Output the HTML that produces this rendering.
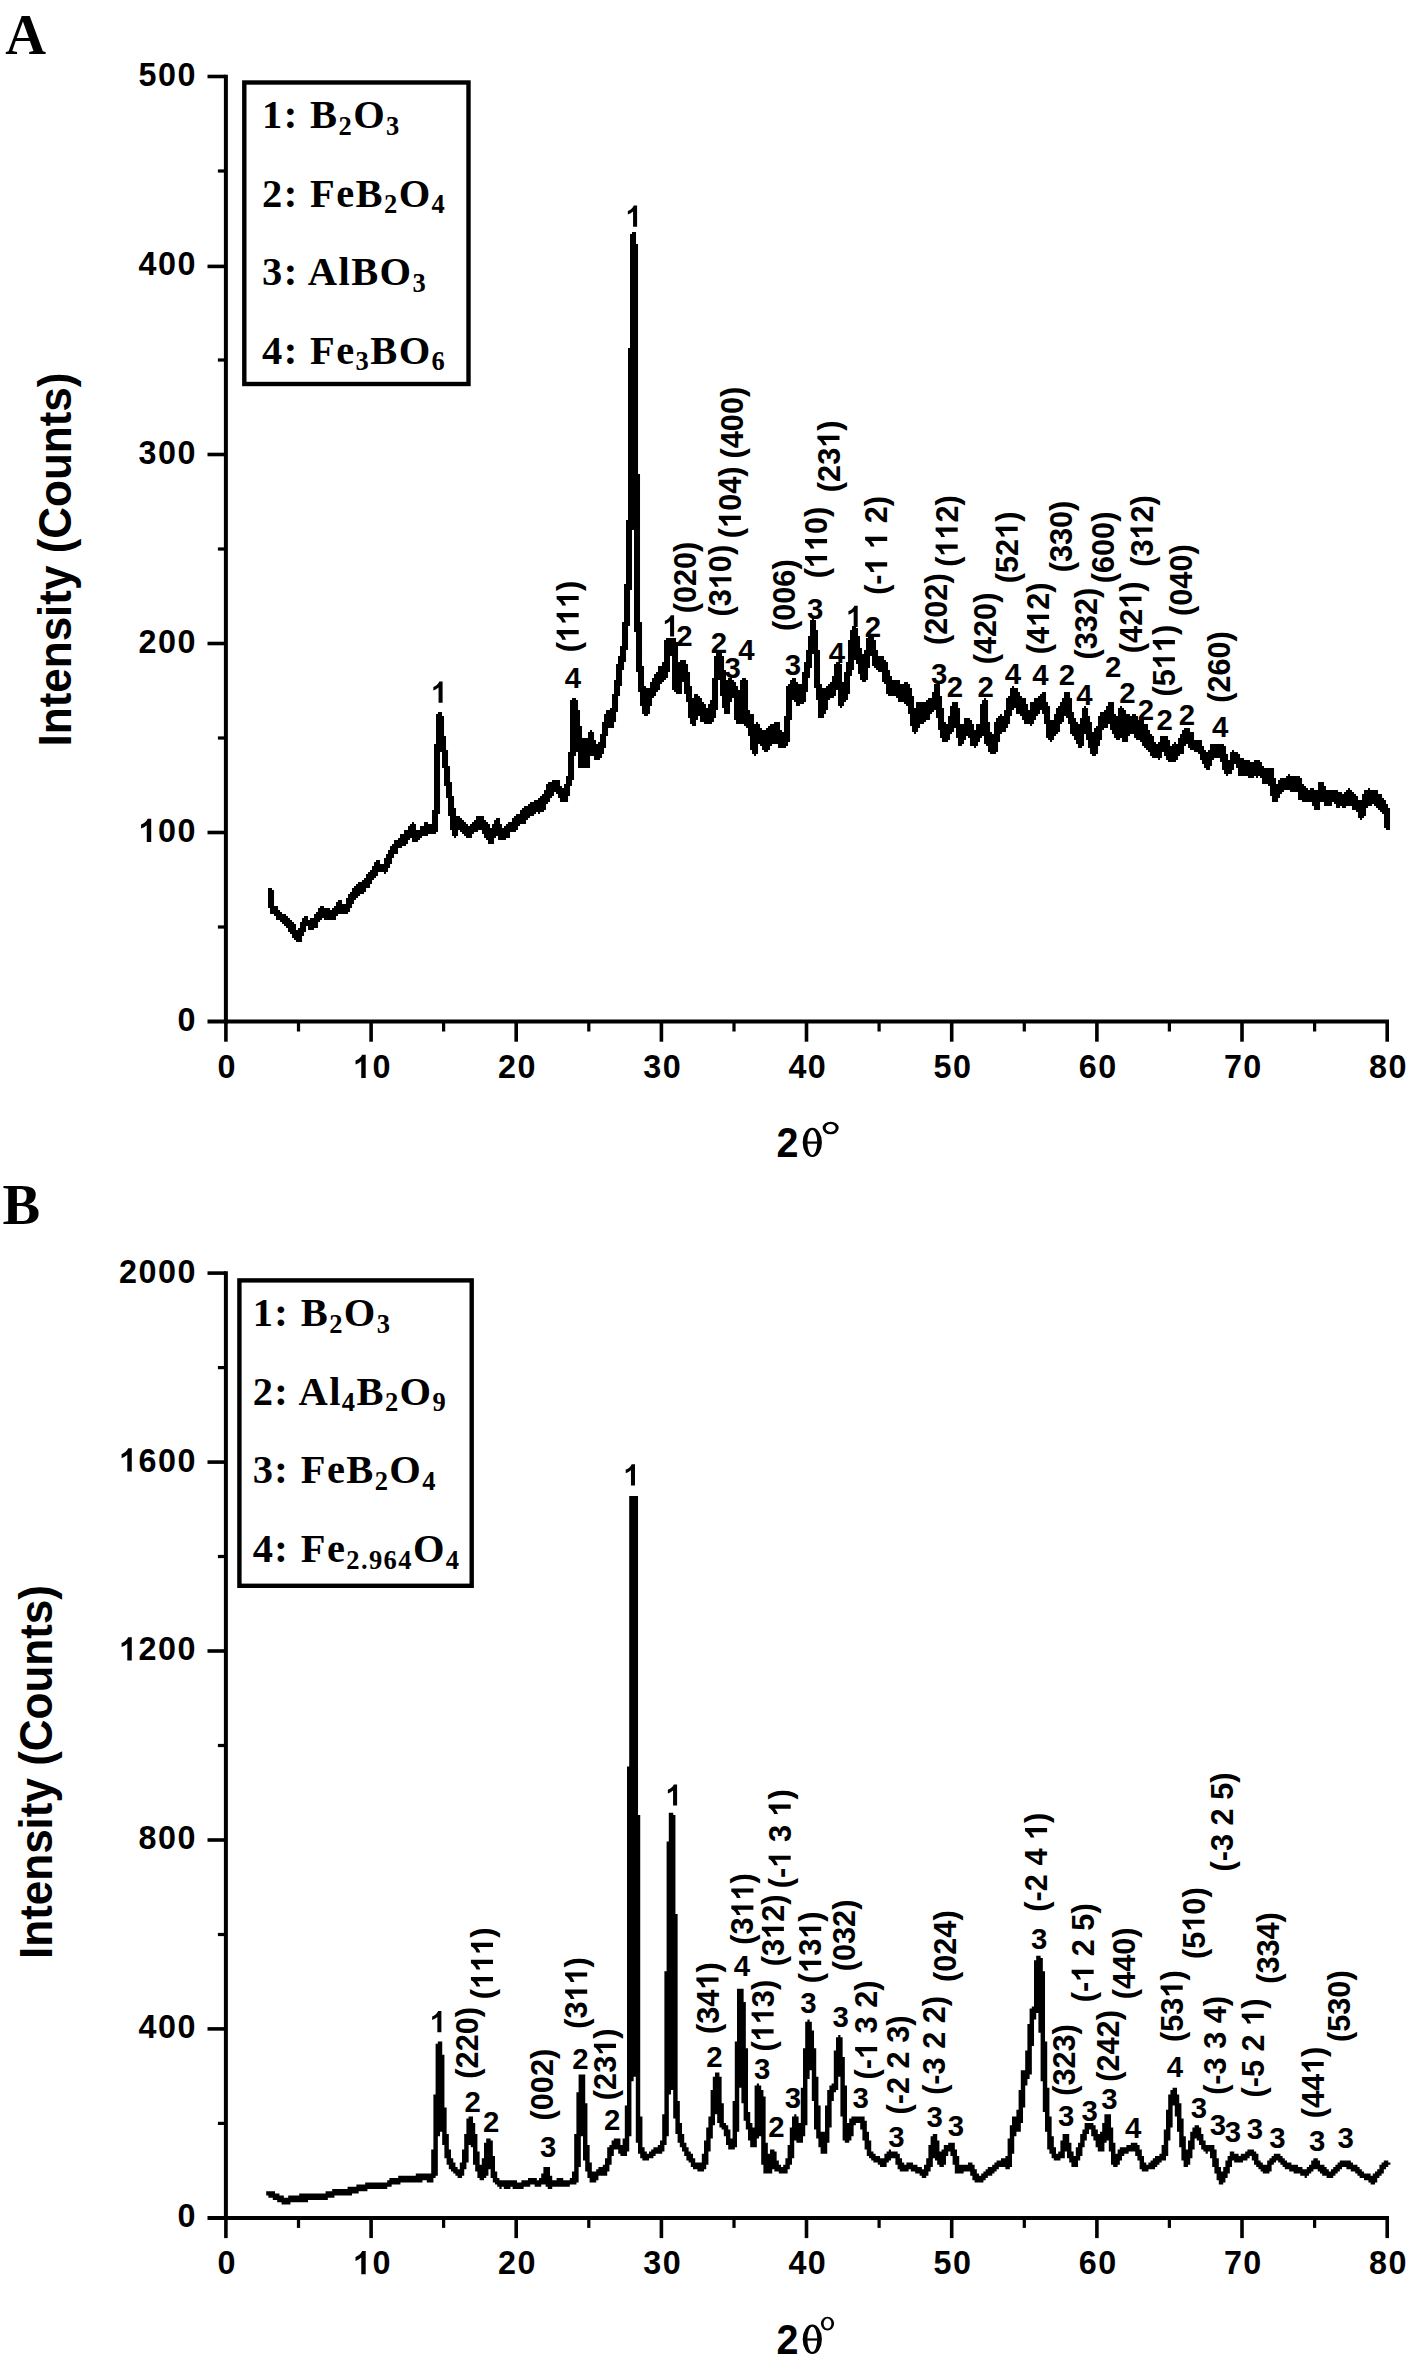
<!DOCTYPE html>
<html><head><meta charset="utf-8"><title>XRD patterns</title>
<style>html,body{margin:0;padding:0;background:#fff}body{width:1415px;height:2363px;overflow:hidden}svg{display:block}svg text{fill:#000}</style>
</head><body>
<svg width="1415" height="2363" viewBox="0 0 1415 2363">
<defs><path id="g1" d="M806 0H525V1059Q371 915 162 846V1101Q272 1137 401 1237.500Q530 1338 578 1472H806Z"/></defs>
<rect width="1415" height="2363" fill="#fff"/>
<text x="5.2" y="54" style="font-family:'Liberation Serif',serif;font-weight:700;font-size:56.5px">A</text>
<text x="2.6" y="1223.6" style="font-family:'Liberation Serif',serif;font-weight:700;font-size:56.5px">B</text>
<g stroke="#000">
<line x1="225.9" y1="74.7" x2="225.9" y2="1023.5" stroke-width="4.0"/>
<line x1="207.5" y1="1021.5" x2="1389.0" y2="1021.5" stroke-width="4.0"/>
<line x1="217.9" y1="927.0" x2="225.9" y2="927.0" stroke-width="3.24"/>
<line x1="207.5" y1="832.5" x2="225.9" y2="832.5" stroke-width="3.6"/>
<line x1="217.9" y1="738.0" x2="225.9" y2="738.0" stroke-width="3.24"/>
<line x1="207.5" y1="643.5" x2="225.9" y2="643.5" stroke-width="3.6"/>
<line x1="217.9" y1="549.0" x2="225.9" y2="549.0" stroke-width="3.24"/>
<line x1="207.5" y1="454.5" x2="225.9" y2="454.5" stroke-width="3.6"/>
<line x1="217.9" y1="360.0" x2="225.9" y2="360.0" stroke-width="3.24"/>
<line x1="207.5" y1="266.4" x2="225.9" y2="266.4" stroke-width="3.6"/>
<line x1="217.9" y1="171.0" x2="225.9" y2="171.0" stroke-width="3.24"/>
<line x1="207.5" y1="76.5" x2="225.9" y2="76.5" stroke-width="3.6"/>
<line x1="225.9" y1="1021.5" x2="225.9" y2="1041.7" stroke-width="3.6"/>
<line x1="298.5" y1="1021.5" x2="298.5" y2="1031.5" stroke-width="3.24"/>
<line x1="371.1" y1="1021.5" x2="371.1" y2="1041.7" stroke-width="3.6"/>
<line x1="443.6" y1="1021.5" x2="443.6" y2="1031.5" stroke-width="3.24"/>
<line x1="516.2" y1="1021.5" x2="516.2" y2="1041.7" stroke-width="3.6"/>
<line x1="588.8" y1="1021.5" x2="588.8" y2="1031.5" stroke-width="3.24"/>
<line x1="661.4" y1="1021.5" x2="661.4" y2="1041.7" stroke-width="3.6"/>
<line x1="734.0" y1="1021.5" x2="734.0" y2="1031.5" stroke-width="3.24"/>
<line x1="806.5" y1="1021.5" x2="806.5" y2="1041.7" stroke-width="3.6"/>
<line x1="879.1" y1="1021.5" x2="879.1" y2="1031.5" stroke-width="3.24"/>
<line x1="951.7" y1="1021.5" x2="951.7" y2="1041.7" stroke-width="3.6"/>
<line x1="1024.3" y1="1021.5" x2="1024.3" y2="1031.5" stroke-width="3.24"/>
<line x1="1096.9" y1="1021.5" x2="1096.9" y2="1041.7" stroke-width="3.6"/>
<line x1="1169.4" y1="1021.5" x2="1169.4" y2="1031.5" stroke-width="3.24"/>
<line x1="1242.0" y1="1021.5" x2="1242.0" y2="1041.7" stroke-width="3.6"/>
<line x1="1314.6" y1="1021.5" x2="1314.6" y2="1031.5" stroke-width="3.24"/>
<line x1="1387.2" y1="1021.5" x2="1387.2" y2="1041.7" stroke-width="3.6"/>
</g>
<g style="font-family:'Liberation Sans',sans-serif;font-weight:700;font-size:32.3px">
<g transform="translate(195.4,1030.9)"><text x="-17.97" y="0" letter-spacing="1.5">0</text></g>
<g transform="translate(195.4,841.9)"><use href="#g1" transform="translate(-56.90,0) scale(0.01577,-0.01577)"/><text x="-37.43" y="0" letter-spacing="1.5">00</text></g>
<g transform="translate(195.4,652.9)"><text x="-56.90" y="0" letter-spacing="1.5">200</text></g>
<g transform="translate(195.4,463.9)"><text x="-56.90" y="0" letter-spacing="1.5">300</text></g>
<g transform="translate(195.4,274.9)"><text x="-56.90" y="0" letter-spacing="1.5">400</text></g>
<g transform="translate(195.4,85.9)"><text x="-56.90" y="0" letter-spacing="1.5">500</text></g>
<g transform="translate(226.5,1077.9)"><text x="-8.98" y="0" letter-spacing="1.5">0</text></g>
<g transform="translate(371.7,1077.9)"><use href="#g1" transform="translate(-18.72,0) scale(0.01577,-0.01577)"/><text x="0.75" y="0" letter-spacing="1.5">0</text></g>
<g transform="translate(516.8,1077.9)"><text x="-18.72" y="0" letter-spacing="1.5">20</text></g>
<g transform="translate(662.0,1077.9)"><text x="-18.72" y="0" letter-spacing="1.5">30</text></g>
<g transform="translate(807.1,1077.9)"><text x="-18.72" y="0" letter-spacing="1.5">40</text></g>
<g transform="translate(952.3,1077.9)"><text x="-18.72" y="0" letter-spacing="1.5">50</text></g>
<g transform="translate(1097.5,1077.9)"><text x="-18.72" y="0" letter-spacing="1.5">60</text></g>
<g transform="translate(1242.6,1077.9)"><text x="-18.72" y="0" letter-spacing="1.5">70</text></g>
<g transform="translate(1387.8,1077.9)"><text x="-18.72" y="0" letter-spacing="1.5">80</text></g>
</g>
<path fill="#000" d="M268.0 888.0h2.03v20.0h-2.03zM270.0 888.0h2.03v26.0h-2.03zM272.0 890.0h2.03v24.0h-2.03zM274.0 906.0h2.03v10.0h-2.03zM276.0 906.0h2.03v14.0h-2.03zM278.0 910.0h2.03v10.0h-2.03zM280.0 912.0h2.03v10.0h-2.03zM282.0 914.0h2.03v10.0h-2.03zM284.0 914.0h2.03v12.0h-2.03zM286.0 916.0h2.03v12.0h-2.03zM288.0 918.0h2.03v14.0h-2.03zM290.0 920.0h2.03v14.0h-2.03zM292.0 922.0h2.03v16.0h-2.03zM294.0 924.0h2.03v16.0h-2.03zM296.0 930.0h2.03v12.0h-2.03zM298.0 928.0h2.03v14.0h-2.03zM300.0 922.0h2.03v20.0h-2.03zM302.0 918.0h2.03v18.0h-2.03zM304.0 916.0h2.03v16.0h-2.03zM306.0 916.0h2.03v10.0h-2.03zM308.0 920.0h2.03v10.0h-2.03zM310.0 918.0h2.03v12.0h-2.03zM312.0 918.0h2.03v12.0h-2.03zM314.0 914.0h2.03v14.0h-2.03zM316.0 912.0h2.03v16.0h-2.03zM318.0 908.0h2.03v14.0h-2.03zM320.0 906.0h2.03v14.0h-2.03zM322.0 906.0h2.03v12.0h-2.03zM324.0 908.0h2.03v12.0h-2.03zM326.0 908.0h2.03v12.0h-2.03zM328.0 908.0h2.03v12.0h-2.03zM330.0 910.0h2.03v10.0h-2.03zM332.0 908.0h2.03v12.0h-2.03zM334.0 906.0h2.03v14.0h-2.03zM336.0 902.0h2.03v14.0h-2.03zM338.0 900.0h2.03v14.0h-2.03zM340.0 900.0h2.03v14.0h-2.03zM342.0 904.0h2.03v10.0h-2.03zM344.0 904.0h2.03v10.0h-2.03zM346.0 898.0h2.03v16.0h-2.03zM348.0 894.0h2.03v18.0h-2.03zM350.0 892.0h2.03v16.0h-2.03zM352.0 888.0h2.03v16.0h-2.03zM354.0 886.0h2.03v14.0h-2.03zM356.0 884.0h2.03v14.0h-2.03zM358.0 882.0h2.03v14.0h-2.03zM360.0 882.0h2.03v12.0h-2.03zM362.0 880.0h2.03v14.0h-2.03zM364.0 878.0h2.03v14.0h-2.03zM366.0 874.0h2.03v14.0h-2.03zM368.0 872.0h2.03v16.0h-2.03zM370.0 870.0h2.03v14.0h-2.03zM372.0 866.0h2.03v14.0h-2.03zM374.0 862.0h2.03v16.0h-2.03zM376.0 860.0h2.03v16.0h-2.03zM378.0 860.0h2.03v12.0h-2.03zM380.0 864.0h2.03v8.0h-2.03zM382.0 864.0h2.03v8.0h-2.03zM384.0 858.0h2.03v16.0h-2.03zM386.0 854.0h2.03v18.0h-2.03zM388.0 850.0h2.03v18.0h-2.03zM390.0 846.0h2.03v18.0h-2.03zM392.0 844.0h2.03v14.0h-2.03zM394.0 840.0h2.03v14.0h-2.03zM396.0 840.0h2.03v14.0h-2.03zM398.0 838.0h2.03v10.0h-2.03zM400.0 834.0h2.03v14.0h-2.03zM402.0 834.0h2.03v12.0h-2.03zM404.0 830.0h2.03v16.0h-2.03zM406.0 830.0h2.03v14.0h-2.03zM408.0 826.0h2.03v14.0h-2.03zM410.0 824.0h2.03v14.0h-2.03zM412.0 822.0h2.03v20.0h-2.03zM414.0 824.0h2.03v18.0h-2.03zM416.0 830.0h2.03v12.0h-2.03zM418.0 830.0h2.03v10.0h-2.03zM420.0 826.0h2.03v12.0h-2.03zM422.0 826.0h2.03v10.0h-2.03zM424.0 822.0h2.03v14.0h-2.03zM426.0 822.0h2.03v14.0h-2.03zM428.0 824.0h2.03v10.0h-2.03zM430.0 824.0h2.03v10.0h-2.03zM432.0 810.0h2.03v24.0h-2.03zM434.0 744.0h2.03v90.0h-2.03zM436.0 714.0h2.03v118.0h-2.03zM438.0 712.0h2.03v102.0h-2.03zM440.0 712.0h2.03v40.0h-2.03zM442.0 716.0h2.03v52.0h-2.03zM444.0 736.0h2.03v50.0h-2.03zM446.0 750.0h2.03v48.0h-2.03zM448.0 766.0h2.03v50.0h-2.03zM450.0 782.0h2.03v48.0h-2.03zM452.0 796.0h2.03v40.0h-2.03zM454.0 808.0h2.03v30.0h-2.03zM456.0 816.0h2.03v20.0h-2.03zM458.0 816.0h2.03v14.0h-2.03zM460.0 818.0h2.03v14.0h-2.03zM462.0 820.0h2.03v14.0h-2.03zM464.0 822.0h2.03v14.0h-2.03zM466.0 824.0h2.03v14.0h-2.03zM468.0 826.0h2.03v12.0h-2.03zM470.0 824.0h2.03v14.0h-2.03zM472.0 822.0h2.03v12.0h-2.03zM474.0 820.0h2.03v12.0h-2.03zM476.0 816.0h2.03v16.0h-2.03zM478.0 816.0h2.03v14.0h-2.03zM480.0 816.0h2.03v14.0h-2.03zM482.0 816.0h2.03v18.0h-2.03zM484.0 820.0h2.03v18.0h-2.03zM486.0 822.0h2.03v18.0h-2.03zM488.0 824.0h2.03v20.0h-2.03zM490.0 828.0h2.03v16.0h-2.03zM492.0 824.0h2.03v20.0h-2.03zM494.0 820.0h2.03v18.0h-2.03zM496.0 818.0h2.03v18.0h-2.03zM498.0 818.0h2.03v22.0h-2.03zM500.0 824.0h2.03v16.0h-2.03zM502.0 828.0h2.03v12.0h-2.03zM504.0 826.0h2.03v14.0h-2.03zM506.0 824.0h2.03v14.0h-2.03zM508.0 822.0h2.03v16.0h-2.03zM510.0 822.0h2.03v10.0h-2.03zM512.0 818.0h2.03v14.0h-2.03zM514.0 816.0h2.03v16.0h-2.03zM516.0 814.0h2.03v16.0h-2.03zM518.0 814.0h2.03v12.0h-2.03zM520.0 810.0h2.03v14.0h-2.03zM522.0 808.0h2.03v16.0h-2.03zM524.0 806.0h2.03v18.0h-2.03zM526.0 806.0h2.03v14.0h-2.03zM528.0 804.0h2.03v14.0h-2.03zM530.0 802.0h2.03v14.0h-2.03zM532.0 802.0h2.03v14.0h-2.03zM534.0 800.0h2.03v14.0h-2.03zM536.0 800.0h2.03v12.0h-2.03zM538.0 798.0h2.03v16.0h-2.03zM540.0 796.0h2.03v16.0h-2.03zM542.0 794.0h2.03v18.0h-2.03zM544.0 790.0h2.03v20.0h-2.03zM546.0 784.0h2.03v20.0h-2.03zM548.0 782.0h2.03v20.0h-2.03zM550.0 782.0h2.03v16.0h-2.03zM552.0 780.0h2.03v16.0h-2.03zM554.0 780.0h2.03v12.0h-2.03zM556.0 780.0h2.03v14.0h-2.03zM558.0 780.0h2.03v18.0h-2.03zM560.0 786.0h2.03v16.0h-2.03zM562.0 788.0h2.03v14.0h-2.03zM564.0 784.0h2.03v18.0h-2.03zM566.0 776.0h2.03v26.0h-2.03zM568.0 752.0h2.03v44.0h-2.03zM570.0 700.0h2.03v86.0h-2.03zM572.0 698.0h2.03v82.0h-2.03zM574.0 698.0h2.03v58.0h-2.03zM576.0 700.0h2.03v52.0h-2.03zM578.0 710.0h2.03v58.0h-2.03zM580.0 726.0h2.03v42.0h-2.03zM582.0 738.0h2.03v30.0h-2.03zM584.0 738.0h2.03v30.0h-2.03zM586.0 738.0h2.03v30.0h-2.03zM588.0 732.0h2.03v36.0h-2.03zM590.0 730.0h2.03v26.0h-2.03zM592.0 732.0h2.03v24.0h-2.03zM594.0 740.0h2.03v20.0h-2.03zM596.0 744.0h2.03v16.0h-2.03zM598.0 742.0h2.03v18.0h-2.03zM600.0 734.0h2.03v24.0h-2.03zM602.0 722.0h2.03v32.0h-2.03zM604.0 714.0h2.03v34.0h-2.03zM606.0 710.0h2.03v26.0h-2.03zM608.0 710.0h2.03v18.0h-2.03zM610.0 708.0h2.03v20.0h-2.03zM612.0 694.0h2.03v34.0h-2.03zM614.0 680.0h2.03v42.0h-2.03zM616.0 664.0h2.03v48.0h-2.03zM618.0 656.0h2.03v40.0h-2.03zM620.0 646.0h2.03v40.0h-2.03zM622.0 622.0h2.03v48.0h-2.03zM624.0 584.0h2.03v78.0h-2.03zM626.0 520.0h2.03v130.0h-2.03zM628.0 348.0h2.03v278.0h-2.03zM630.0 234.0h2.03v356.0h-2.03zM632.0 232.0h2.03v298.0h-2.03zM634.0 232.0h2.03v400.0h-2.03zM636.0 244.0h2.03v428.0h-2.03zM638.0 474.0h2.03v218.0h-2.03zM640.0 622.0h2.03v84.0h-2.03zM642.0 666.0h2.03v48.0h-2.03zM644.0 686.0h2.03v30.0h-2.03zM646.0 688.0h2.03v28.0h-2.03zM648.0 688.0h2.03v26.0h-2.03zM650.0 682.0h2.03v24.0h-2.03zM652.0 678.0h2.03v20.0h-2.03zM654.0 674.0h2.03v22.0h-2.03zM656.0 672.0h2.03v20.0h-2.03zM658.0 666.0h2.03v24.0h-2.03zM660.0 666.0h2.03v18.0h-2.03zM662.0 662.0h2.03v20.0h-2.03zM664.0 640.0h2.03v40.0h-2.03zM666.0 638.0h2.03v40.0h-2.03zM668.0 638.0h2.03v34.0h-2.03zM670.0 638.0h2.03v18.0h-2.03zM672.0 638.0h2.03v52.0h-2.03zM674.0 638.0h2.03v54.0h-2.03zM676.0 642.0h2.03v52.0h-2.03zM678.0 662.0h2.03v32.0h-2.03zM680.0 660.0h2.03v34.0h-2.03zM682.0 660.0h2.03v22.0h-2.03zM684.0 660.0h2.03v34.0h-2.03zM686.0 664.0h2.03v38.0h-2.03zM688.0 672.0h2.03v46.0h-2.03zM690.0 686.0h2.03v38.0h-2.03zM692.0 698.0h2.03v28.0h-2.03zM694.0 694.0h2.03v32.0h-2.03zM696.0 694.0h2.03v26.0h-2.03zM698.0 696.0h2.03v20.0h-2.03zM700.0 698.0h2.03v24.0h-2.03zM702.0 702.0h2.03v20.0h-2.03zM704.0 704.0h2.03v20.0h-2.03zM706.0 708.0h2.03v16.0h-2.03zM708.0 704.0h2.03v20.0h-2.03zM710.0 700.0h2.03v24.0h-2.03zM712.0 678.0h2.03v44.0h-2.03zM714.0 656.0h2.03v62.0h-2.03zM716.0 652.0h2.03v58.0h-2.03zM718.0 652.0h2.03v28.0h-2.03zM720.0 652.0h2.03v44.0h-2.03zM722.0 656.0h2.03v52.0h-2.03zM724.0 670.0h2.03v44.0h-2.03zM726.0 680.0h2.03v34.0h-2.03zM728.0 678.0h2.03v36.0h-2.03zM730.0 678.0h2.03v24.0h-2.03zM732.0 680.0h2.03v18.0h-2.03zM734.0 682.0h2.03v38.0h-2.03zM736.0 686.0h2.03v38.0h-2.03zM738.0 690.0h2.03v34.0h-2.03zM740.0 680.0h2.03v44.0h-2.03zM742.0 678.0h2.03v46.0h-2.03zM744.0 678.0h2.03v48.0h-2.03zM746.0 680.0h2.03v48.0h-2.03zM748.0 710.0h2.03v26.0h-2.03zM750.0 714.0h2.03v36.0h-2.03zM752.0 714.0h2.03v40.0h-2.03zM754.0 724.0h2.03v32.0h-2.03zM756.0 722.0h2.03v32.0h-2.03zM758.0 724.0h2.03v20.0h-2.03zM760.0 728.0h2.03v18.0h-2.03zM762.0 730.0h2.03v20.0h-2.03zM764.0 730.0h2.03v22.0h-2.03zM766.0 728.0h2.03v24.0h-2.03zM768.0 726.0h2.03v24.0h-2.03zM770.0 724.0h2.03v22.0h-2.03zM772.0 724.0h2.03v20.0h-2.03zM774.0 722.0h2.03v22.0h-2.03zM776.0 722.0h2.03v22.0h-2.03zM778.0 722.0h2.03v26.0h-2.03zM780.0 730.0h2.03v18.0h-2.03zM782.0 732.0h2.03v16.0h-2.03zM784.0 716.0h2.03v32.0h-2.03zM786.0 686.0h2.03v60.0h-2.03zM788.0 684.0h2.03v58.0h-2.03zM790.0 680.0h2.03v40.0h-2.03zM792.0 678.0h2.03v22.0h-2.03zM794.0 678.0h2.03v24.0h-2.03zM796.0 682.0h2.03v24.0h-2.03zM798.0 684.0h2.03v22.0h-2.03zM800.0 684.0h2.03v20.0h-2.03zM802.0 672.0h2.03v32.0h-2.03zM804.0 662.0h2.03v40.0h-2.03zM806.0 650.0h2.03v42.0h-2.03zM808.0 636.0h2.03v42.0h-2.03zM810.0 620.0h2.03v48.0h-2.03zM812.0 618.0h2.03v36.0h-2.03zM814.0 620.0h2.03v68.0h-2.03zM816.0 630.0h2.03v70.0h-2.03zM818.0 650.0h2.03v68.0h-2.03zM820.0 684.0h2.03v34.0h-2.03zM822.0 688.0h2.03v30.0h-2.03zM824.0 688.0h2.03v26.0h-2.03zM826.0 686.0h2.03v24.0h-2.03zM828.0 684.0h2.03v16.0h-2.03zM830.0 682.0h2.03v16.0h-2.03zM832.0 676.0h2.03v22.0h-2.03zM834.0 664.0h2.03v32.0h-2.03zM836.0 662.0h2.03v28.0h-2.03zM838.0 662.0h2.03v44.0h-2.03zM840.0 664.0h2.03v44.0h-2.03zM842.0 682.0h2.03v24.0h-2.03zM844.0 672.0h2.03v30.0h-2.03zM846.0 662.0h2.03v38.0h-2.03zM848.0 640.0h2.03v54.0h-2.03zM850.0 630.0h2.03v46.0h-2.03zM852.0 626.0h2.03v44.0h-2.03zM854.0 626.0h2.03v34.0h-2.03zM856.0 628.0h2.03v36.0h-2.03zM858.0 636.0h2.03v38.0h-2.03zM860.0 648.0h2.03v32.0h-2.03zM862.0 654.0h2.03v28.0h-2.03zM864.0 650.0h2.03v32.0h-2.03zM866.0 638.0h2.03v42.0h-2.03zM868.0 636.0h2.03v32.0h-2.03zM870.0 634.0h2.03v22.0h-2.03zM872.0 636.0h2.03v30.0h-2.03zM874.0 640.0h2.03v28.0h-2.03zM876.0 650.0h2.03v20.0h-2.03zM878.0 656.0h2.03v16.0h-2.03zM880.0 656.0h2.03v16.0h-2.03zM882.0 656.0h2.03v26.0h-2.03zM884.0 660.0h2.03v24.0h-2.03zM886.0 662.0h2.03v32.0h-2.03zM888.0 670.0h2.03v26.0h-2.03zM890.0 676.0h2.03v20.0h-2.03zM892.0 680.0h2.03v16.0h-2.03zM894.0 680.0h2.03v16.0h-2.03zM896.0 680.0h2.03v18.0h-2.03zM898.0 680.0h2.03v22.0h-2.03zM900.0 684.0h2.03v18.0h-2.03zM902.0 684.0h2.03v18.0h-2.03zM904.0 682.0h2.03v22.0h-2.03zM906.0 682.0h2.03v24.0h-2.03zM908.0 684.0h2.03v30.0h-2.03zM910.0 688.0h2.03v38.0h-2.03zM912.0 696.0h2.03v36.0h-2.03zM914.0 708.0h2.03v26.0h-2.03zM916.0 702.0h2.03v30.0h-2.03zM918.0 702.0h2.03v26.0h-2.03zM920.0 702.0h2.03v22.0h-2.03zM922.0 702.0h2.03v22.0h-2.03zM924.0 702.0h2.03v20.0h-2.03zM926.0 700.0h2.03v20.0h-2.03zM928.0 698.0h2.03v22.0h-2.03zM930.0 698.0h2.03v16.0h-2.03zM932.0 692.0h2.03v20.0h-2.03zM934.0 684.0h2.03v26.0h-2.03zM936.0 684.0h2.03v34.0h-2.03zM938.0 684.0h2.03v46.0h-2.03zM940.0 696.0h2.03v42.0h-2.03zM942.0 708.0h2.03v34.0h-2.03zM944.0 722.0h2.03v20.0h-2.03zM946.0 724.0h2.03v18.0h-2.03zM948.0 716.0h2.03v24.0h-2.03zM950.0 706.0h2.03v28.0h-2.03zM952.0 702.0h2.03v30.0h-2.03zM954.0 702.0h2.03v26.0h-2.03zM956.0 702.0h2.03v36.0h-2.03zM958.0 708.0h2.03v38.0h-2.03zM960.0 724.0h2.03v22.0h-2.03zM962.0 724.0h2.03v20.0h-2.03zM964.0 718.0h2.03v22.0h-2.03zM966.0 718.0h2.03v18.0h-2.03zM968.0 718.0h2.03v20.0h-2.03zM970.0 720.0h2.03v26.0h-2.03zM972.0 724.0h2.03v22.0h-2.03zM974.0 730.0h2.03v18.0h-2.03zM976.0 724.0h2.03v22.0h-2.03zM978.0 724.0h2.03v18.0h-2.03zM980.0 704.0h2.03v34.0h-2.03zM982.0 700.0h2.03v36.0h-2.03zM984.0 698.0h2.03v46.0h-2.03zM986.0 700.0h2.03v46.0h-2.03zM988.0 722.0h2.03v30.0h-2.03zM990.0 732.0h2.03v22.0h-2.03zM992.0 734.0h2.03v20.0h-2.03zM994.0 722.0h2.03v32.0h-2.03zM996.0 718.0h2.03v34.0h-2.03zM998.0 716.0h2.03v26.0h-2.03zM1000.0 714.0h2.03v20.0h-2.03zM1002.0 716.0h2.03v16.0h-2.03zM1004.0 710.0h2.03v22.0h-2.03zM1006.0 698.0h2.03v30.0h-2.03zM1008.0 696.0h2.03v28.0h-2.03zM1010.0 688.0h2.03v28.0h-2.03zM1012.0 686.0h2.03v24.0h-2.03zM1014.0 688.0h2.03v20.0h-2.03zM1016.0 688.0h2.03v26.0h-2.03zM1018.0 692.0h2.03v22.0h-2.03zM1020.0 696.0h2.03v20.0h-2.03zM1022.0 698.0h2.03v22.0h-2.03zM1024.0 698.0h2.03v26.0h-2.03zM1026.0 704.0h2.03v20.0h-2.03zM1028.0 710.0h2.03v14.0h-2.03zM1030.0 702.0h2.03v24.0h-2.03zM1032.0 702.0h2.03v22.0h-2.03zM1034.0 698.0h2.03v22.0h-2.03zM1036.0 698.0h2.03v18.0h-2.03zM1038.0 696.0h2.03v18.0h-2.03zM1040.0 694.0h2.03v16.0h-2.03zM1042.0 692.0h2.03v22.0h-2.03zM1044.0 692.0h2.03v32.0h-2.03zM1046.0 702.0h2.03v36.0h-2.03zM1048.0 706.0h2.03v34.0h-2.03zM1050.0 720.0h2.03v22.0h-2.03zM1052.0 720.0h2.03v20.0h-2.03zM1054.0 714.0h2.03v22.0h-2.03zM1056.0 708.0h2.03v26.0h-2.03zM1058.0 706.0h2.03v26.0h-2.03zM1060.0 702.0h2.03v22.0h-2.03zM1062.0 698.0h2.03v24.0h-2.03zM1064.0 692.0h2.03v24.0h-2.03zM1066.0 692.0h2.03v26.0h-2.03zM1068.0 692.0h2.03v32.0h-2.03zM1070.0 698.0h2.03v36.0h-2.03zM1072.0 712.0h2.03v24.0h-2.03zM1074.0 718.0h2.03v22.0h-2.03zM1076.0 722.0h2.03v22.0h-2.03zM1078.0 724.0h2.03v24.0h-2.03zM1080.0 718.0h2.03v30.0h-2.03zM1082.0 708.0h2.03v38.0h-2.03zM1084.0 706.0h2.03v28.0h-2.03zM1086.0 708.0h2.03v32.0h-2.03zM1088.0 716.0h2.03v32.0h-2.03zM1090.0 722.0h2.03v32.0h-2.03zM1092.0 732.0h2.03v24.0h-2.03zM1094.0 728.0h2.03v28.0h-2.03zM1096.0 726.0h2.03v28.0h-2.03zM1098.0 716.0h2.03v30.0h-2.03zM1100.0 712.0h2.03v28.0h-2.03zM1102.0 712.0h2.03v18.0h-2.03zM1104.0 710.0h2.03v18.0h-2.03zM1106.0 706.0h2.03v22.0h-2.03zM1108.0 702.0h2.03v22.0h-2.03zM1110.0 702.0h2.03v28.0h-2.03zM1112.0 702.0h2.03v32.0h-2.03zM1114.0 714.0h2.03v24.0h-2.03zM1116.0 716.0h2.03v24.0h-2.03zM1118.0 708.0h2.03v32.0h-2.03zM1120.0 706.0h2.03v32.0h-2.03zM1122.0 708.0h2.03v34.0h-2.03zM1124.0 710.0h2.03v32.0h-2.03zM1126.0 714.0h2.03v28.0h-2.03zM1128.0 714.0h2.03v22.0h-2.03zM1130.0 716.0h2.03v18.0h-2.03zM1132.0 714.0h2.03v20.0h-2.03zM1134.0 714.0h2.03v24.0h-2.03zM1136.0 716.0h2.03v24.0h-2.03zM1138.0 720.0h2.03v20.0h-2.03zM1140.0 720.0h2.03v22.0h-2.03zM1142.0 720.0h2.03v26.0h-2.03zM1144.0 724.0h2.03v24.0h-2.03zM1146.0 724.0h2.03v26.0h-2.03zM1148.0 730.0h2.03v22.0h-2.03zM1150.0 734.0h2.03v22.0h-2.03zM1152.0 736.0h2.03v22.0h-2.03zM1154.0 742.0h2.03v16.0h-2.03zM1156.0 744.0h2.03v14.0h-2.03zM1158.0 742.0h2.03v18.0h-2.03zM1160.0 736.0h2.03v22.0h-2.03zM1162.0 736.0h2.03v16.0h-2.03zM1164.0 736.0h2.03v20.0h-2.03zM1166.0 736.0h2.03v24.0h-2.03zM1168.0 740.0h2.03v22.0h-2.03zM1170.0 746.0h2.03v16.0h-2.03zM1172.0 744.0h2.03v18.0h-2.03zM1174.0 742.0h2.03v20.0h-2.03zM1176.0 744.0h2.03v16.0h-2.03zM1178.0 738.0h2.03v18.0h-2.03zM1180.0 734.0h2.03v20.0h-2.03zM1182.0 730.0h2.03v24.0h-2.03zM1184.0 728.0h2.03v18.0h-2.03zM1186.0 728.0h2.03v16.0h-2.03zM1188.0 728.0h2.03v20.0h-2.03zM1190.0 732.0h2.03v18.0h-2.03zM1192.0 732.0h2.03v18.0h-2.03zM1194.0 740.0h2.03v12.0h-2.03zM1196.0 740.0h2.03v12.0h-2.03zM1198.0 740.0h2.03v14.0h-2.03zM1200.0 740.0h2.03v20.0h-2.03zM1202.0 746.0h2.03v18.0h-2.03zM1204.0 750.0h2.03v18.0h-2.03zM1206.0 752.0h2.03v18.0h-2.03zM1208.0 750.0h2.03v20.0h-2.03zM1210.0 744.0h2.03v22.0h-2.03zM1212.0 744.0h2.03v16.0h-2.03zM1214.0 744.0h2.03v14.0h-2.03zM1216.0 744.0h2.03v14.0h-2.03zM1218.0 744.0h2.03v14.0h-2.03zM1220.0 744.0h2.03v18.0h-2.03zM1222.0 744.0h2.03v26.0h-2.03zM1224.0 746.0h2.03v28.0h-2.03zM1226.0 754.0h2.03v22.0h-2.03zM1228.0 760.0h2.03v14.0h-2.03zM1230.0 752.0h2.03v22.0h-2.03zM1232.0 750.0h2.03v20.0h-2.03zM1234.0 752.0h2.03v12.0h-2.03zM1236.0 752.0h2.03v16.0h-2.03zM1238.0 754.0h2.03v22.0h-2.03zM1240.0 758.0h2.03v18.0h-2.03zM1242.0 758.0h2.03v18.0h-2.03zM1244.0 760.0h2.03v16.0h-2.03zM1246.0 760.0h2.03v16.0h-2.03zM1248.0 760.0h2.03v18.0h-2.03zM1250.0 762.0h2.03v16.0h-2.03zM1252.0 762.0h2.03v16.0h-2.03zM1254.0 760.0h2.03v16.0h-2.03zM1256.0 760.0h2.03v18.0h-2.03zM1258.0 760.0h2.03v16.0h-2.03zM1260.0 762.0h2.03v16.0h-2.03zM1262.0 766.0h2.03v18.0h-2.03zM1264.0 768.0h2.03v16.0h-2.03zM1266.0 768.0h2.03v16.0h-2.03zM1268.0 768.0h2.03v18.0h-2.03zM1270.0 768.0h2.03v28.0h-2.03zM1272.0 768.0h2.03v34.0h-2.03zM1274.0 778.0h2.03v24.0h-2.03zM1276.0 784.0h2.03v18.0h-2.03zM1278.0 780.0h2.03v18.0h-2.03zM1280.0 778.0h2.03v16.0h-2.03zM1282.0 778.0h2.03v14.0h-2.03zM1284.0 778.0h2.03v12.0h-2.03zM1286.0 776.0h2.03v14.0h-2.03zM1288.0 774.0h2.03v16.0h-2.03zM1290.0 776.0h2.03v16.0h-2.03zM1292.0 776.0h2.03v16.0h-2.03zM1294.0 776.0h2.03v16.0h-2.03zM1296.0 776.0h2.03v16.0h-2.03zM1298.0 776.0h2.03v24.0h-2.03zM1300.0 778.0h2.03v22.0h-2.03zM1302.0 784.0h2.03v18.0h-2.03zM1304.0 786.0h2.03v16.0h-2.03zM1306.0 788.0h2.03v14.0h-2.03zM1308.0 790.0h2.03v12.0h-2.03zM1310.0 788.0h2.03v14.0h-2.03zM1312.0 788.0h2.03v18.0h-2.03zM1314.0 790.0h2.03v20.0h-2.03zM1316.0 790.0h2.03v20.0h-2.03zM1318.0 782.0h2.03v28.0h-2.03zM1320.0 782.0h2.03v20.0h-2.03zM1322.0 782.0h2.03v20.0h-2.03zM1324.0 786.0h2.03v20.0h-2.03zM1326.0 790.0h2.03v16.0h-2.03zM1328.0 790.0h2.03v16.0h-2.03zM1330.0 790.0h2.03v16.0h-2.03zM1332.0 790.0h2.03v12.0h-2.03zM1334.0 790.0h2.03v14.0h-2.03zM1336.0 790.0h2.03v18.0h-2.03zM1338.0 792.0h2.03v16.0h-2.03zM1340.0 792.0h2.03v14.0h-2.03zM1342.0 794.0h2.03v14.0h-2.03zM1344.0 792.0h2.03v16.0h-2.03zM1346.0 790.0h2.03v16.0h-2.03zM1348.0 788.0h2.03v18.0h-2.03zM1350.0 790.0h2.03v16.0h-2.03zM1352.0 792.0h2.03v18.0h-2.03zM1354.0 794.0h2.03v16.0h-2.03zM1356.0 796.0h2.03v16.0h-2.03zM1358.0 800.0h2.03v18.0h-2.03zM1360.0 800.0h2.03v20.0h-2.03zM1362.0 794.0h2.03v24.0h-2.03zM1364.0 790.0h2.03v26.0h-2.03zM1366.0 790.0h2.03v18.0h-2.03zM1368.0 788.0h2.03v18.0h-2.03zM1370.0 790.0h2.03v16.0h-2.03zM1372.0 790.0h2.03v14.0h-2.03zM1374.0 790.0h2.03v16.0h-2.03zM1376.0 790.0h2.03v18.0h-2.03zM1378.0 794.0h2.03v16.0h-2.03zM1380.0 794.0h2.03v18.0h-2.03zM1382.0 798.0h2.03v16.0h-2.03zM1384.0 800.0h2.03v28.0h-2.03zM1386.0 804.0h2.03v26.0h-2.03zM1388.0 808.0h2.03v22.0h-2.03z"/>
<g style="font-family:'Liberation Sans',sans-serif;font-weight:700;font-size:30.7px">
<g transform="translate(578.7,616.5) rotate(-90)"><text x="-35.84" y="0">(</text><use href="#g1" transform="translate(-25.61,0) scale(0.01499,-0.01499)"/><use href="#g1" transform="translate(-8.54,0) scale(0.01499,-0.01499)"/><use href="#g1" transform="translate(8.54,0) scale(0.01499,-0.01499)"/><text x="25.61" y="0">)</text></g>
<g transform="translate(695.9,577.5) rotate(-90)"><text x="-35.84" y="0">(020)</text></g>
<g transform="translate(731.4,580.7) rotate(-90)"><text x="-35.84" y="0">(3</text><use href="#g1" transform="translate(-8.54,0) scale(0.01499,-0.01499)"/><text x="8.54" y="0">0)</text></g>
<g transform="translate(740.9,502.3) rotate(-90)"><text x="-35.84" y="0">(</text><use href="#g1" transform="translate(-25.61,0) scale(0.01499,-0.01499)"/><text x="-8.54" y="0">04)</text></g>
<g transform="translate(743.3,422.6) rotate(-90)"><text x="-35.84" y="0">(400)</text></g>
<g transform="translate(794.7,595.2) rotate(-90)"><text x="-35.84" y="0">(006)</text></g>
<g transform="translate(827.1,542.5) rotate(-90)"><text x="-35.84" y="0">(</text><use href="#g1" transform="translate(-25.61,0) scale(0.01499,-0.01499)"/><use href="#g1" transform="translate(-8.54,0) scale(0.01499,-0.01499)"/><text x="8.54" y="0">0)</text></g>
<g transform="translate(839.5,456.3) rotate(-90)"><text x="-35.84" y="0">(23</text><use href="#g1" transform="translate(8.54,0) scale(0.01499,-0.01499)"/><text x="25.61" y="0">)</text></g>
<g transform="translate(887.2,545.4) rotate(-90)"><text x="-49.48" y="0">(-</text><use href="#g1" transform="translate(-29.04,0) scale(0.01499,-0.01499)"/><use href="#g1" transform="translate(-3.43,0) scale(0.01499,-0.01499)"/><text x="22.18" y="0">2)</text></g>
<g transform="translate(946.9,609.2) rotate(-90)"><text x="-35.84" y="0">(202)</text></g>
<g transform="translate(957.7,531.0) rotate(-90)"><text x="-35.84" y="0">(</text><use href="#g1" transform="translate(-25.61,0) scale(0.01499,-0.01499)"/><use href="#g1" transform="translate(-8.54,0) scale(0.01499,-0.01499)"/><text x="8.54" y="0">2)</text></g>
<g transform="translate(996.1,628.4) rotate(-90)"><text x="-35.84" y="0">(420)</text></g>
<g transform="translate(1017.7,547.4) rotate(-90)"><text x="-35.84" y="0">(52</text><use href="#g1" transform="translate(8.54,0) scale(0.01499,-0.01499)"/><text x="25.61" y="0">)</text></g>
<g transform="translate(1049.1,618.3) rotate(-90)"><text x="-35.84" y="0">(4</text><use href="#g1" transform="translate(-8.54,0) scale(0.01499,-0.01499)"/><text x="8.54" y="0">2)</text></g>
<g transform="translate(1072.4,536.5) rotate(-90)"><text x="-35.84" y="0">(330)</text></g>
<g transform="translate(1097.0,623.6) rotate(-90)"><text x="-35.84" y="0">(332)</text></g>
<g transform="translate(1114.2,547.4) rotate(-90)"><text x="-35.84" y="0">(600)</text></g>
<g transform="translate(1141.5,617.3) rotate(-90)"><text x="-35.84" y="0">(42</text><use href="#g1" transform="translate(8.54,0) scale(0.01499,-0.01499)"/><text x="25.61" y="0">)</text></g>
<g transform="translate(1152.5,531.0) rotate(-90)"><text x="-35.84" y="0">(3</text><use href="#g1" transform="translate(-8.54,0) scale(0.01499,-0.01499)"/><text x="8.54" y="0">2)</text></g>
<g transform="translate(1174.9,660.7) rotate(-90)"><text x="-35.84" y="0">(5</text><use href="#g1" transform="translate(-8.54,0) scale(0.01499,-0.01499)"/><use href="#g1" transform="translate(8.54,0) scale(0.01499,-0.01499)"/><text x="25.61" y="0">)</text></g>
<g transform="translate(1191.6,580.1) rotate(-90)"><text x="-35.84" y="0">(040)</text></g>
<g transform="translate(1230.1,667.0) rotate(-90)"><text x="-35.84" y="0">(260)</text></g>
</g>
<g style="font-family:'Liberation Sans',sans-serif;font-weight:700;font-size:29.4px">
<g transform="translate(633.7,226.7)"><use href="#g1" transform="translate(-8.18,0) scale(0.01436,-0.01436)"/></g>
<g transform="translate(439.2,702.7)"><use href="#g1" transform="translate(-8.18,0) scale(0.01436,-0.01436)"/></g>
<g transform="translate(572.9,688.2)"><text x="-8.18" y="0">4</text></g>
<g transform="translate(670.7,636.5)"><use href="#g1" transform="translate(-8.18,0) scale(0.01436,-0.01436)"/></g>
<g transform="translate(684.5,645.5)"><text x="-8.18" y="0">2</text></g>
<g transform="translate(718.9,653.4)"><text x="-8.18" y="0">2</text></g>
<g transform="translate(732.7,677.8)"><text x="-8.18" y="0">3</text></g>
<g transform="translate(746.5,660.3)"><text x="-8.18" y="0">4</text></g>
<g transform="translate(792.8,674.6)"><text x="-8.18" y="0">3</text></g>
<g transform="translate(815.1,618.5)"><text x="-8.18" y="0">3</text></g>
<g transform="translate(836.8,663.0)"><text x="-8.18" y="0">4</text></g>
<g transform="translate(854.3,626.9)"><use href="#g1" transform="translate(-8.18,0) scale(0.01436,-0.01436)"/></g>
<g transform="translate(872.8,637.0)"><text x="-8.18" y="0">2</text></g>
<g transform="translate(939.1,684.2)"><text x="-8.18" y="0">3</text></g>
<g transform="translate(955.0,696.9)"><text x="-8.18" y="0">2</text></g>
<g transform="translate(985.7,696.9)"><text x="-8.18" y="0">2</text></g>
<g transform="translate(1012.8,684.2)"><text x="-8.18" y="0">4</text></g>
<g transform="translate(1040.3,684.7)"><text x="-8.18" y="0">4</text></g>
<g transform="translate(1067.0,684.7)"><text x="-8.18" y="0">2</text></g>
<g transform="translate(1084.5,704.9)"><text x="-8.18" y="0">4</text></g>
<g transform="translate(1113.2,676.8)"><text x="-8.18" y="0">2</text></g>
<g transform="translate(1127.5,702.7)"><text x="-8.18" y="0">2</text></g>
<g transform="translate(1146.0,719.7)"><text x="-8.18" y="0">2</text></g>
<g transform="translate(1164.6,729.7)"><text x="-8.18" y="0">2</text></g>
<g transform="translate(1186.8,724.5)"><text x="-8.18" y="0">2</text></g>
<g transform="translate(1220.2,736.7)"><text x="-8.18" y="0">4</text></g>
</g>
<text transform="translate(70.9,559.5) rotate(-90) scale(1,1.04)" text-anchor="middle" style="font-family:'Liberation Sans',sans-serif;font-weight:700;font-size:44px">Intensity (Counts)</text>
<text transform="translate(776.6,1157.3) scale(0.94,1)" style="font-family:'Liberation Sans',sans-serif;font-weight:700;font-size:42px">2</text><path fill-rule="evenodd" d="M802.70 1142.40a9.60 14.70 0 1 0 19.20 0a9.60 14.70 0 1 0 -19.20 0zM807.40 1142.40a4.90 12.50 0 1 0 9.80 0a4.90 12.50 0 1 0 -9.80 0z"/><rect x="807.1" y="1141.5" width="10.4" height="2.2"/><path fill-rule="evenodd" d="M822.65 1128.00a8.00 6.30 0 1 0 16.00 0a8.00 6.30 0 1 0 -16.00 0zM825.65 1128.00a5.00 3.95 0 1 0 10.00 0a5.00 3.95 0 1 0 -10.00 0z"/>
<rect x="244.3" y="82.5" width="224.2" height="301.5" fill="#fff" stroke="#000" stroke-width="4.4"/>
<g style="font-family:'Liberation Serif',serif;font-weight:700;font-size:40.5px" letter-spacing="1.4">
<text x="262.0" y="128.0"><tspan dy="0">1: B</tspan><tspan font-size="26.5" dy="6.5">2</tspan><tspan dy="-6.5">O</tspan><tspan font-size="26.5" dy="6.5">3</tspan></text>
<text x="262.0" y="206.5"><tspan dy="0">2: FeB</tspan><tspan font-size="26.5" dy="6.5">2</tspan><tspan dy="-6.5">O</tspan><tspan font-size="26.5" dy="6.5">4</tspan></text>
<text x="262.0" y="285.0"><tspan dy="0">3: AlBO</tspan><tspan font-size="26.5" dy="6.5">3</tspan></text>
<text x="262.0" y="363.5"><tspan dy="0">4: Fe</tspan><tspan font-size="26.5" dy="6.5">3</tspan><tspan dy="-6.5">BO</tspan><tspan font-size="26.5" dy="6.5">6</tspan></text>
</g>
<g stroke="#000">
<line x1="225.9" y1="1271.3" x2="225.9" y2="2219.9" stroke-width="4.0"/>
<line x1="207.5" y1="2217.9" x2="1389.0" y2="2217.9" stroke-width="4.0"/>
<line x1="217.9" y1="2123.4" x2="225.9" y2="2123.4" stroke-width="3.24"/>
<line x1="207.5" y1="2028.9" x2="225.9" y2="2028.9" stroke-width="3.6"/>
<line x1="217.9" y1="1934.5" x2="225.9" y2="1934.5" stroke-width="3.24"/>
<line x1="207.5" y1="1840.0" x2="225.9" y2="1840.0" stroke-width="3.6"/>
<line x1="217.9" y1="1745.5" x2="225.9" y2="1745.5" stroke-width="3.24"/>
<line x1="207.5" y1="1651.0" x2="225.9" y2="1651.0" stroke-width="3.6"/>
<line x1="217.9" y1="1556.5" x2="225.9" y2="1556.5" stroke-width="3.24"/>
<line x1="207.5" y1="1462.1" x2="225.9" y2="1462.1" stroke-width="3.6"/>
<line x1="217.9" y1="1367.6" x2="225.9" y2="1367.6" stroke-width="3.24"/>
<line x1="207.5" y1="1273.1" x2="225.9" y2="1273.1" stroke-width="3.6"/>
<line x1="225.9" y1="2217.9" x2="225.9" y2="2238.1" stroke-width="3.6"/>
<line x1="298.5" y1="2217.9" x2="298.5" y2="2227.9" stroke-width="3.24"/>
<line x1="371.1" y1="2217.9" x2="371.1" y2="2238.1" stroke-width="3.6"/>
<line x1="443.6" y1="2217.9" x2="443.6" y2="2227.9" stroke-width="3.24"/>
<line x1="516.2" y1="2217.9" x2="516.2" y2="2238.1" stroke-width="3.6"/>
<line x1="588.8" y1="2217.9" x2="588.8" y2="2227.9" stroke-width="3.24"/>
<line x1="661.4" y1="2217.9" x2="661.4" y2="2238.1" stroke-width="3.6"/>
<line x1="734.0" y1="2217.9" x2="734.0" y2="2227.9" stroke-width="3.24"/>
<line x1="806.5" y1="2217.9" x2="806.5" y2="2238.1" stroke-width="3.6"/>
<line x1="879.1" y1="2217.9" x2="879.1" y2="2227.9" stroke-width="3.24"/>
<line x1="951.7" y1="2217.9" x2="951.7" y2="2238.1" stroke-width="3.6"/>
<line x1="1024.3" y1="2217.9" x2="1024.3" y2="2227.9" stroke-width="3.24"/>
<line x1="1096.9" y1="2217.9" x2="1096.9" y2="2238.1" stroke-width="3.6"/>
<line x1="1169.4" y1="2217.9" x2="1169.4" y2="2227.9" stroke-width="3.24"/>
<line x1="1242.0" y1="2217.9" x2="1242.0" y2="2238.1" stroke-width="3.6"/>
<line x1="1314.6" y1="2217.9" x2="1314.6" y2="2227.9" stroke-width="3.24"/>
<line x1="1387.2" y1="2217.9" x2="1387.2" y2="2238.1" stroke-width="3.6"/>
</g>
<g style="font-family:'Liberation Sans',sans-serif;font-weight:700;font-size:32.3px">
<g transform="translate(195.4,2227.3)"><text x="-17.97" y="0" letter-spacing="1.5">0</text></g>
<g transform="translate(195.4,2038.3)"><text x="-56.90" y="0" letter-spacing="1.5">400</text></g>
<g transform="translate(195.4,1849.4)"><text x="-56.90" y="0" letter-spacing="1.5">800</text></g>
<g transform="translate(195.4,1660.4)"><use href="#g1" transform="translate(-76.36,0) scale(0.01577,-0.01577)"/><text x="-56.90" y="0" letter-spacing="1.5">200</text></g>
<g transform="translate(195.4,1471.5)"><use href="#g1" transform="translate(-76.36,0) scale(0.01577,-0.01577)"/><text x="-56.90" y="0" letter-spacing="1.5">600</text></g>
<g transform="translate(195.4,1282.5)"><text x="-76.36" y="0" letter-spacing="1.5">2000</text></g>
<g transform="translate(226.5,2274.3)"><text x="-8.98" y="0" letter-spacing="1.5">0</text></g>
<g transform="translate(371.7,2274.3)"><use href="#g1" transform="translate(-18.72,0) scale(0.01577,-0.01577)"/><text x="0.75" y="0" letter-spacing="1.5">0</text></g>
<g transform="translate(516.8,2274.3)"><text x="-18.72" y="0" letter-spacing="1.5">20</text></g>
<g transform="translate(662.0,2274.3)"><text x="-18.72" y="0" letter-spacing="1.5">30</text></g>
<g transform="translate(807.1,2274.3)"><text x="-18.72" y="0" letter-spacing="1.5">40</text></g>
<g transform="translate(952.3,2274.3)"><text x="-18.72" y="0" letter-spacing="1.5">50</text></g>
<g transform="translate(1097.5,2274.3)"><text x="-18.72" y="0" letter-spacing="1.5">60</text></g>
<g transform="translate(1242.6,2274.3)"><text x="-18.72" y="0" letter-spacing="1.5">70</text></g>
<g transform="translate(1387.8,2274.3)"><text x="-18.72" y="0" letter-spacing="1.5">80</text></g>
</g>
<path fill="#000" d="M266.2 2191.2h2.23v4.4h-2.23zM268.4 2191.2h2.23v6.6h-2.23zM270.6 2191.2h2.23v6.6h-2.23zM272.8 2191.2h2.23v8.8h-2.23zM275.0 2193.4h2.23v6.6h-2.23zM277.2 2193.4h2.23v8.8h-2.23zM279.4 2195.6h2.23v6.6h-2.23zM281.6 2195.6h2.23v8.8h-2.23zM283.8 2197.8h2.23v6.6h-2.23zM286.0 2197.8h2.23v6.6h-2.23zM288.2 2195.6h2.23v8.8h-2.23zM290.4 2195.6h2.23v6.6h-2.23zM292.6 2195.6h2.23v6.6h-2.23zM294.8 2195.6h2.23v6.6h-2.23zM297.0 2195.6h2.23v6.6h-2.23zM299.2 2193.4h2.23v8.8h-2.23zM301.4 2193.4h2.23v8.8h-2.23zM303.6 2193.4h2.23v8.8h-2.23zM305.8 2193.4h2.23v8.8h-2.23zM308.0 2193.4h2.23v6.6h-2.23zM310.2 2193.4h2.23v6.6h-2.23zM312.4 2193.4h2.23v6.6h-2.23zM314.6 2193.4h2.23v6.6h-2.23zM316.8 2193.4h2.23v6.6h-2.23zM319.0 2193.4h2.23v6.6h-2.23zM321.2 2193.4h2.23v6.6h-2.23zM323.4 2193.4h2.23v6.6h-2.23zM325.6 2191.2h2.23v8.8h-2.23zM327.8 2191.2h2.23v6.6h-2.23zM330.0 2191.2h2.23v6.6h-2.23zM332.2 2189.0h2.23v8.8h-2.23zM334.4 2189.0h2.23v6.6h-2.23zM336.6 2189.0h2.23v6.6h-2.23zM338.8 2189.0h2.23v6.6h-2.23zM341.0 2189.0h2.23v6.6h-2.23zM343.2 2189.0h2.23v6.6h-2.23zM345.4 2189.0h2.23v6.6h-2.23zM347.6 2186.8h2.23v8.8h-2.23zM349.8 2186.8h2.23v8.8h-2.23zM352.0 2186.8h2.23v6.6h-2.23zM354.2 2186.8h2.23v6.6h-2.23zM356.4 2184.6h2.23v8.8h-2.23zM358.6 2184.6h2.23v6.6h-2.23zM360.8 2184.6h2.23v6.6h-2.23zM363.0 2184.6h2.23v6.6h-2.23zM365.2 2182.4h2.23v8.8h-2.23zM367.4 2182.4h2.23v6.6h-2.23zM369.6 2182.4h2.23v6.6h-2.23zM371.8 2182.4h2.23v6.6h-2.23zM374.0 2182.4h2.23v6.6h-2.23zM376.2 2182.4h2.23v6.6h-2.23zM378.4 2182.4h2.23v6.6h-2.23zM380.6 2182.4h2.23v6.6h-2.23zM382.8 2182.4h2.23v6.6h-2.23zM385.0 2182.4h2.23v6.6h-2.23zM387.2 2180.2h2.23v6.6h-2.23zM389.4 2178.0h2.23v8.8h-2.23zM391.6 2178.0h2.23v6.6h-2.23zM393.8 2178.0h2.23v6.6h-2.23zM396.0 2178.0h2.23v6.6h-2.23zM398.2 2175.8h2.23v8.8h-2.23zM400.4 2175.8h2.23v6.6h-2.23zM402.6 2175.8h2.23v6.6h-2.23zM404.8 2175.8h2.23v6.6h-2.23zM407.0 2175.8h2.23v6.6h-2.23zM409.2 2175.8h2.23v6.6h-2.23zM411.4 2175.8h2.23v6.6h-2.23zM413.6 2175.8h2.23v6.6h-2.23zM415.8 2173.6h2.23v8.8h-2.23zM418.0 2173.6h2.23v8.8h-2.23zM420.2 2173.6h2.23v8.8h-2.23zM422.4 2173.6h2.23v6.6h-2.23zM424.6 2173.6h2.23v6.6h-2.23zM426.8 2173.6h2.23v8.8h-2.23zM429.0 2173.6h2.23v8.8h-2.23zM431.2 2149.4h2.23v33.0h-2.23zM433.4 2094.4h2.23v83.6h-2.23zM435.6 2043.8h2.23v132.0h-2.23zM437.8 2041.6h2.23v94.6h-2.23zM440.0 2041.6h2.23v90.2h-2.23zM442.2 2054.8h2.23v90.2h-2.23zM444.4 2107.6h2.23v50.6h-2.23zM446.6 2134.0h2.23v30.8h-2.23zM448.8 2149.4h2.23v19.8h-2.23zM451.0 2158.2h2.23v13.2h-2.23zM453.2 2162.6h2.23v11.0h-2.23zM455.4 2167.0h2.23v8.8h-2.23zM457.6 2169.2h2.23v8.8h-2.23zM459.8 2162.6h2.23v15.4h-2.23zM462.0 2149.4h2.23v26.4h-2.23zM464.2 2134.0h2.23v35.2h-2.23zM466.4 2118.6h2.23v44.0h-2.23zM468.6 2116.4h2.23v28.6h-2.23zM470.8 2116.4h2.23v30.8h-2.23zM473.0 2123.0h2.23v41.8h-2.23zM475.2 2134.0h2.23v37.4h-2.23zM477.4 2151.6h2.23v26.4h-2.23zM479.6 2164.8h2.23v15.4h-2.23zM481.8 2158.2h2.23v22.0h-2.23zM484.0 2142.8h2.23v35.2h-2.23zM486.2 2138.4h2.23v37.4h-2.23zM488.4 2138.4h2.23v30.8h-2.23zM490.6 2140.6h2.23v37.4h-2.23zM492.8 2156.0h2.23v26.4h-2.23zM495.0 2171.4h2.23v13.2h-2.23zM497.2 2178.0h2.23v8.8h-2.23zM499.4 2180.2h2.23v8.8h-2.23zM501.6 2180.2h2.23v6.6h-2.23zM503.8 2180.2h2.23v8.8h-2.23zM506.0 2180.2h2.23v8.8h-2.23zM508.2 2180.2h2.23v8.8h-2.23zM510.4 2180.2h2.23v6.6h-2.23zM512.6 2180.2h2.23v8.8h-2.23zM514.8 2180.2h2.23v8.8h-2.23zM517.0 2182.4h2.23v6.6h-2.23zM519.2 2182.4h2.23v6.6h-2.23zM521.4 2180.2h2.23v8.8h-2.23zM523.6 2180.2h2.23v6.6h-2.23zM525.8 2180.2h2.23v6.6h-2.23zM528.0 2178.0h2.23v8.8h-2.23zM530.2 2178.0h2.23v6.6h-2.23zM532.4 2178.0h2.23v6.6h-2.23zM534.6 2178.0h2.23v8.8h-2.23zM536.8 2180.2h2.23v6.6h-2.23zM539.0 2178.0h2.23v8.8h-2.23zM541.2 2173.6h2.23v11.0h-2.23zM543.4 2167.0h2.23v17.6h-2.23zM545.6 2167.0h2.23v19.8h-2.23zM547.8 2167.0h2.23v22.0h-2.23zM550.0 2175.8h2.23v13.2h-2.23zM552.2 2180.2h2.23v6.6h-2.23zM554.4 2180.2h2.23v6.6h-2.23zM556.6 2178.0h2.23v8.8h-2.23zM558.8 2178.0h2.23v8.8h-2.23zM561.0 2178.0h2.23v8.8h-2.23zM563.2 2180.2h2.23v6.6h-2.23zM565.4 2180.2h2.23v6.6h-2.23zM567.6 2180.2h2.23v6.6h-2.23zM569.8 2178.0h2.23v6.6h-2.23zM572.0 2171.4h2.23v13.2h-2.23zM574.2 2134.0h2.23v50.6h-2.23zM576.4 2092.2h2.23v90.2h-2.23zM578.6 2074.6h2.23v92.4h-2.23zM580.8 2074.6h2.23v61.6h-2.23zM583.0 2074.6h2.23v85.8h-2.23zM585.2 2103.2h2.23v68.2h-2.23zM587.4 2145.0h2.23v33.0h-2.23zM589.6 2162.6h2.23v19.8h-2.23zM591.8 2171.4h2.23v11.0h-2.23zM594.0 2171.4h2.23v11.0h-2.23zM596.2 2169.2h2.23v11.0h-2.23zM598.4 2167.0h2.23v8.8h-2.23zM600.6 2167.0h2.23v8.8h-2.23zM602.8 2164.8h2.23v11.0h-2.23zM605.0 2158.2h2.23v17.6h-2.23zM607.2 2147.2h2.23v24.2h-2.23zM609.4 2145.0h2.23v19.8h-2.23zM611.6 2140.6h2.23v15.4h-2.23zM613.8 2138.4h2.23v11.0h-2.23zM616.0 2138.4h2.23v11.0h-2.23zM618.2 2138.4h2.23v15.4h-2.23zM620.4 2145.0h2.23v11.0h-2.23zM622.6 2138.4h2.23v17.6h-2.23zM624.8 2105.4h2.23v50.6h-2.23zM627.0 1766.6h2.23v385.0h-2.23zM629.2 1496.0h2.23v640.2h-2.23zM631.4 1496.0h2.23v585.2h-2.23zM633.6 1496.0h2.23v580.8h-2.23zM635.8 1496.0h2.23v646.8h-2.23zM638.0 1815.0h2.23v338.8h-2.23zM640.2 2116.4h2.23v41.8h-2.23zM642.4 2147.2h2.23v13.2h-2.23zM644.6 2151.6h2.23v8.8h-2.23zM646.8 2153.8h2.23v6.6h-2.23zM649.0 2151.6h2.23v6.6h-2.23zM651.2 2149.4h2.23v8.8h-2.23zM653.4 2147.2h2.23v8.8h-2.23zM655.6 2147.2h2.23v6.6h-2.23zM657.8 2145.0h2.23v8.8h-2.23zM660.0 2140.6h2.23v13.2h-2.23zM662.2 2114.2h2.23v37.4h-2.23zM664.4 1971.2h2.23v173.8h-2.23zM666.6 1841.4h2.23v294.8h-2.23zM668.8 1812.8h2.23v281.6h-2.23zM671.0 1812.8h2.23v277.2h-2.23zM673.2 1815.0h2.23v303.6h-2.23zM675.4 1914.0h2.23v220.0h-2.23zM677.6 2101.0h2.23v41.8h-2.23zM679.8 2123.0h2.23v24.2h-2.23zM682.0 2134.0h2.23v17.6h-2.23zM684.2 2142.8h2.23v13.2h-2.23zM686.4 2147.2h2.23v13.2h-2.23zM688.6 2151.6h2.23v11.0h-2.23zM690.8 2153.8h2.23v13.2h-2.23zM693.0 2158.2h2.23v11.0h-2.23zM695.2 2162.6h2.23v6.6h-2.23zM697.4 2162.6h2.23v8.8h-2.23zM699.6 2162.6h2.23v8.8h-2.23zM701.8 2153.8h2.23v17.6h-2.23zM704.0 2140.6h2.23v28.6h-2.23zM706.2 2127.4h2.23v37.4h-2.23zM708.4 2116.4h2.23v35.2h-2.23zM710.6 2090.0h2.23v48.4h-2.23zM712.8 2076.8h2.23v48.4h-2.23zM715.0 2072.4h2.23v41.8h-2.23zM717.2 2072.4h2.23v50.6h-2.23zM719.4 2076.8h2.23v50.6h-2.23zM721.6 2103.2h2.23v26.4h-2.23zM723.8 2123.0h2.23v13.2h-2.23zM726.0 2125.2h2.23v19.8h-2.23zM728.2 2129.6h2.23v19.8h-2.23zM730.4 2138.4h2.23v11.0h-2.23zM732.6 2101.0h2.23v48.4h-2.23zM734.8 2041.6h2.23v105.6h-2.23zM737.0 1988.8h2.23v143.0h-2.23zM739.2 1988.8h2.23v99.0h-2.23zM741.4 1988.8h2.23v114.4h-2.23zM743.6 2002.0h2.23v118.8h-2.23zM745.8 2048.2h2.23v81.4h-2.23zM748.0 2112.0h2.23v28.6h-2.23zM750.2 2123.0h2.23v24.2h-2.23zM752.4 2127.4h2.23v19.8h-2.23zM754.6 2085.6h2.23v61.6h-2.23zM756.8 2083.4h2.23v55.0h-2.23zM759.0 2085.6h2.23v50.6h-2.23zM761.2 2090.0h2.23v74.8h-2.23zM763.4 2096.6h2.23v77.0h-2.23zM765.6 2142.8h2.23v30.8h-2.23zM767.8 2153.8h2.23v19.8h-2.23zM770.0 2149.4h2.23v24.2h-2.23zM772.2 2149.4h2.23v19.8h-2.23zM774.4 2151.6h2.23v19.8h-2.23zM776.6 2160.4h2.23v11.0h-2.23zM778.8 2164.8h2.23v8.8h-2.23zM781.0 2167.0h2.23v6.6h-2.23zM783.2 2164.8h2.23v8.8h-2.23zM785.4 2158.2h2.23v15.4h-2.23zM787.6 2145.0h2.23v24.2h-2.23zM789.8 2127.4h2.23v37.4h-2.23zM792.0 2116.4h2.23v41.8h-2.23zM794.2 2114.2h2.23v26.4h-2.23zM796.4 2116.4h2.23v26.4h-2.23zM798.6 2123.0h2.23v19.8h-2.23zM800.8 2087.8h2.23v55.0h-2.23zM803.0 2048.2h2.23v88.0h-2.23zM805.2 2021.8h2.23v103.4h-2.23zM807.4 2019.6h2.23v59.4h-2.23zM809.6 2021.8h2.23v48.4h-2.23zM811.8 2030.6h2.23v70.4h-2.23zM814.0 2048.2h2.23v81.4h-2.23zM816.2 2076.8h2.23v61.6h-2.23zM818.4 2105.4h2.23v41.8h-2.23zM820.6 2131.8h2.23v22.0h-2.23zM822.8 2131.8h2.23v22.0h-2.23zM825.0 2105.4h2.23v48.4h-2.23zM827.2 2090.0h2.23v52.8h-2.23zM829.4 2085.6h2.23v41.8h-2.23zM831.6 2083.4h2.23v17.6h-2.23zM833.8 2050.4h2.23v41.8h-2.23zM836.0 2037.2h2.23v52.8h-2.23zM838.2 2035.0h2.23v41.8h-2.23zM840.4 2037.2h2.23v79.2h-2.23zM842.6 2057.0h2.23v83.6h-2.23zM844.8 2085.6h2.23v57.2h-2.23zM847.0 2123.0h2.23v19.8h-2.23zM849.2 2118.6h2.23v22.0h-2.23zM851.4 2116.4h2.23v19.8h-2.23zM853.6 2116.4h2.23v8.8h-2.23zM855.8 2116.4h2.23v6.6h-2.23zM858.0 2116.4h2.23v6.6h-2.23zM860.2 2116.4h2.23v13.2h-2.23zM862.4 2116.4h2.23v24.2h-2.23zM864.6 2120.8h2.23v28.6h-2.23zM866.8 2131.8h2.23v24.2h-2.23zM869.0 2140.6h2.23v17.6h-2.23zM871.2 2151.6h2.23v8.8h-2.23zM873.4 2153.8h2.23v8.8h-2.23zM875.6 2156.0h2.23v6.6h-2.23zM877.8 2156.0h2.23v8.8h-2.23zM880.0 2158.2h2.23v8.8h-2.23zM882.2 2158.2h2.23v8.8h-2.23zM884.4 2153.8h2.23v13.2h-2.23zM886.6 2151.6h2.23v11.0h-2.23zM888.8 2149.4h2.23v11.0h-2.23zM891.0 2151.6h2.23v6.6h-2.23zM893.2 2151.6h2.23v6.6h-2.23zM895.4 2151.6h2.23v13.2h-2.23zM897.6 2153.8h2.23v15.4h-2.23zM899.8 2158.2h2.23v13.2h-2.23zM902.0 2162.6h2.23v8.8h-2.23zM904.2 2164.8h2.23v6.6h-2.23zM906.4 2162.6h2.23v8.8h-2.23zM908.6 2162.6h2.23v6.6h-2.23zM910.8 2162.6h2.23v8.8h-2.23zM913.0 2164.8h2.23v6.6h-2.23zM915.2 2164.8h2.23v8.8h-2.23zM917.4 2167.0h2.23v6.6h-2.23zM919.6 2167.0h2.23v8.8h-2.23zM921.8 2169.2h2.23v8.8h-2.23zM924.0 2164.8h2.23v13.2h-2.23zM926.2 2158.2h2.23v17.6h-2.23zM928.4 2145.0h2.23v26.4h-2.23zM930.6 2136.2h2.23v30.8h-2.23zM932.8 2134.0h2.23v24.2h-2.23zM935.0 2134.0h2.23v26.4h-2.23zM937.2 2140.6h2.23v24.2h-2.23zM939.4 2151.6h2.23v15.4h-2.23zM941.6 2149.4h2.23v17.6h-2.23zM943.8 2145.0h2.23v19.8h-2.23zM946.0 2145.0h2.23v11.0h-2.23zM948.2 2142.8h2.23v8.8h-2.23zM950.4 2142.8h2.23v13.2h-2.23zM952.6 2142.8h2.23v22.0h-2.23zM954.8 2149.4h2.23v24.2h-2.23zM957.0 2156.0h2.23v17.6h-2.23zM959.2 2164.8h2.23v8.8h-2.23zM961.4 2164.8h2.23v8.8h-2.23zM963.6 2164.8h2.23v6.6h-2.23zM965.8 2164.8h2.23v6.6h-2.23zM968.0 2162.6h2.23v8.8h-2.23zM970.2 2162.6h2.23v13.2h-2.23zM972.4 2164.8h2.23v15.4h-2.23zM974.6 2169.2h2.23v13.2h-2.23zM976.8 2173.6h2.23v8.8h-2.23zM979.0 2175.8h2.23v6.6h-2.23zM981.2 2173.6h2.23v8.8h-2.23zM983.4 2171.4h2.23v8.8h-2.23zM985.6 2169.2h2.23v8.8h-2.23zM987.8 2167.0h2.23v8.8h-2.23zM990.0 2167.0h2.23v8.8h-2.23zM992.2 2164.8h2.23v8.8h-2.23zM994.4 2162.6h2.23v8.8h-2.23zM996.6 2160.4h2.23v8.8h-2.23zM998.8 2160.4h2.23v6.6h-2.23zM1001.0 2158.2h2.23v8.8h-2.23zM1003.2 2158.2h2.23v8.8h-2.23zM1005.4 2156.0h2.23v13.2h-2.23zM1007.6 2138.4h2.23v30.8h-2.23zM1009.8 2125.2h2.23v41.8h-2.23zM1012.0 2116.4h2.23v37.4h-2.23zM1014.2 2116.4h2.23v19.8h-2.23zM1016.4 2109.8h2.23v22.0h-2.23zM1018.6 2090.0h2.23v41.8h-2.23zM1020.8 2070.2h2.23v52.8h-2.23zM1023.0 2070.2h2.23v37.4h-2.23zM1025.2 2050.4h2.23v35.2h-2.23zM1027.4 2024.0h2.23v55.0h-2.23zM1029.6 2008.6h2.23v66.0h-2.23zM1031.8 2006.4h2.23v39.6h-2.23zM1034.0 1960.2h2.23v59.4h-2.23zM1036.2 1955.8h2.23v57.2h-2.23zM1038.4 1955.8h2.23v77.0h-2.23zM1040.6 1958.0h2.23v123.2h-2.23zM1042.8 1971.2h2.23v140.8h-2.23zM1045.0 2041.6h2.23v90.2h-2.23zM1047.2 2087.8h2.23v61.6h-2.23zM1049.4 2116.4h2.23v37.4h-2.23zM1051.6 2136.2h2.23v22.0h-2.23zM1053.8 2147.2h2.23v13.2h-2.23zM1056.0 2153.8h2.23v6.6h-2.23zM1058.2 2151.6h2.23v8.8h-2.23zM1060.4 2140.6h2.23v17.6h-2.23zM1062.6 2134.0h2.23v24.2h-2.23zM1064.8 2134.0h2.23v17.6h-2.23zM1067.0 2134.0h2.23v24.2h-2.23zM1069.2 2142.8h2.23v19.8h-2.23zM1071.4 2151.6h2.23v15.4h-2.23zM1073.6 2156.0h2.23v11.0h-2.23zM1075.8 2147.2h2.23v19.8h-2.23zM1078.0 2142.8h2.23v17.6h-2.23zM1080.2 2134.0h2.23v22.0h-2.23zM1082.4 2129.6h2.23v17.6h-2.23zM1084.6 2123.0h2.23v17.6h-2.23zM1086.8 2123.0h2.23v11.0h-2.23zM1089.0 2123.0h2.23v6.6h-2.23zM1091.2 2123.0h2.23v13.2h-2.23zM1093.4 2125.2h2.23v15.4h-2.23zM1095.6 2129.6h2.23v17.6h-2.23zM1097.8 2134.0h2.23v17.6h-2.23zM1100.0 2131.8h2.23v19.8h-2.23zM1102.2 2123.0h2.23v28.6h-2.23zM1104.4 2114.2h2.23v28.6h-2.23zM1106.6 2114.2h2.23v26.4h-2.23zM1108.8 2114.2h2.23v37.4h-2.23zM1111.0 2127.4h2.23v37.4h-2.23zM1113.2 2142.8h2.23v24.2h-2.23zM1115.4 2153.8h2.23v13.2h-2.23zM1117.6 2149.4h2.23v15.4h-2.23zM1119.8 2147.2h2.23v13.2h-2.23zM1122.0 2147.2h2.23v8.8h-2.23zM1124.2 2147.2h2.23v6.6h-2.23zM1126.4 2145.0h2.23v8.8h-2.23zM1128.6 2145.0h2.23v6.6h-2.23zM1130.8 2142.8h2.23v8.8h-2.23zM1133.0 2142.8h2.23v8.8h-2.23zM1135.2 2142.8h2.23v13.2h-2.23zM1137.4 2145.0h2.23v15.4h-2.23zM1139.6 2149.4h2.23v19.8h-2.23zM1141.8 2156.0h2.23v15.4h-2.23zM1144.0 2162.6h2.23v8.8h-2.23zM1146.2 2164.8h2.23v6.6h-2.23zM1148.4 2162.6h2.23v6.6h-2.23zM1150.6 2160.4h2.23v8.8h-2.23zM1152.8 2158.2h2.23v11.0h-2.23zM1155.0 2156.0h2.23v11.0h-2.23zM1157.2 2156.0h2.23v8.8h-2.23zM1159.4 2153.8h2.23v8.8h-2.23zM1161.6 2145.0h2.23v15.4h-2.23zM1163.8 2129.6h2.23v30.8h-2.23zM1166.0 2109.8h2.23v46.2h-2.23zM1168.2 2094.4h2.23v46.2h-2.23zM1170.4 2090.0h2.23v37.4h-2.23zM1172.6 2087.8h2.23v17.6h-2.23zM1174.8 2087.8h2.23v28.6h-2.23zM1177.0 2094.4h2.23v37.4h-2.23zM1179.2 2103.2h2.23v44.0h-2.23zM1181.4 2118.6h2.23v41.8h-2.23zM1183.6 2136.2h2.23v30.8h-2.23zM1185.8 2149.4h2.23v17.6h-2.23zM1188.0 2140.6h2.23v24.2h-2.23zM1190.2 2131.8h2.23v26.4h-2.23zM1192.4 2127.4h2.23v22.0h-2.23zM1194.6 2125.2h2.23v13.2h-2.23zM1196.8 2125.2h2.23v15.4h-2.23zM1199.0 2127.4h2.23v17.6h-2.23zM1201.2 2134.0h2.23v15.4h-2.23zM1203.4 2140.6h2.23v11.0h-2.23zM1205.6 2145.0h2.23v8.8h-2.23zM1207.8 2145.0h2.23v6.6h-2.23zM1210.0 2145.0h2.23v13.2h-2.23zM1212.2 2145.0h2.23v22.0h-2.23zM1214.4 2149.4h2.23v24.2h-2.23zM1216.6 2158.2h2.23v22.0h-2.23zM1218.8 2167.0h2.23v17.6h-2.23zM1221.0 2171.4h2.23v13.2h-2.23zM1223.2 2167.0h2.23v15.4h-2.23zM1225.4 2160.4h2.23v17.6h-2.23zM1227.6 2156.0h2.23v17.6h-2.23zM1229.8 2151.6h2.23v15.4h-2.23zM1232.0 2151.6h2.23v8.8h-2.23zM1234.2 2153.8h2.23v8.8h-2.23zM1236.4 2153.8h2.23v8.8h-2.23zM1238.6 2156.0h2.23v6.6h-2.23zM1240.8 2153.8h2.23v8.8h-2.23zM1243.0 2153.8h2.23v6.6h-2.23zM1245.2 2151.6h2.23v8.8h-2.23zM1247.4 2149.4h2.23v8.8h-2.23zM1249.6 2149.4h2.23v6.6h-2.23zM1251.8 2149.4h2.23v11.0h-2.23zM1254.0 2151.6h2.23v13.2h-2.23zM1256.2 2153.8h2.23v13.2h-2.23zM1258.4 2160.4h2.23v8.8h-2.23zM1260.6 2162.6h2.23v8.8h-2.23zM1262.8 2164.8h2.23v8.8h-2.23zM1265.0 2164.8h2.23v8.8h-2.23zM1267.2 2160.4h2.23v13.2h-2.23zM1269.4 2158.2h2.23v13.2h-2.23zM1271.6 2156.0h2.23v8.8h-2.23zM1273.8 2153.8h2.23v8.8h-2.23zM1276.0 2153.8h2.23v6.6h-2.23zM1278.2 2153.8h2.23v8.8h-2.23zM1280.4 2156.0h2.23v8.8h-2.23zM1282.6 2158.2h2.23v8.8h-2.23zM1284.8 2160.4h2.23v8.8h-2.23zM1287.0 2162.6h2.23v6.6h-2.23zM1289.2 2162.6h2.23v8.8h-2.23zM1291.4 2164.8h2.23v6.6h-2.23zM1293.6 2164.8h2.23v8.8h-2.23zM1295.8 2164.8h2.23v8.8h-2.23zM1298.0 2167.0h2.23v6.6h-2.23zM1300.2 2167.0h2.23v8.8h-2.23zM1302.4 2169.2h2.23v6.6h-2.23zM1304.6 2169.2h2.23v8.8h-2.23zM1306.8 2167.0h2.23v8.8h-2.23zM1309.0 2164.8h2.23v8.8h-2.23zM1311.2 2160.4h2.23v11.0h-2.23zM1313.4 2158.2h2.23v11.0h-2.23zM1315.6 2158.2h2.23v11.0h-2.23zM1317.8 2160.4h2.23v11.0h-2.23zM1320.0 2164.8h2.23v8.8h-2.23zM1322.2 2164.8h2.23v11.0h-2.23zM1324.4 2167.0h2.23v8.8h-2.23zM1326.6 2169.2h2.23v8.8h-2.23zM1328.8 2171.4h2.23v6.6h-2.23zM1331.0 2169.2h2.23v8.8h-2.23zM1333.2 2167.0h2.23v8.8h-2.23zM1335.4 2164.8h2.23v8.8h-2.23zM1337.6 2162.6h2.23v8.8h-2.23zM1339.8 2160.4h2.23v8.8h-2.23zM1342.0 2160.4h2.23v6.6h-2.23zM1344.2 2160.4h2.23v6.6h-2.23zM1346.4 2160.4h2.23v8.8h-2.23zM1348.6 2160.4h2.23v8.8h-2.23zM1350.8 2162.6h2.23v8.8h-2.23zM1353.0 2164.8h2.23v6.6h-2.23zM1355.2 2164.8h2.23v8.8h-2.23zM1357.4 2167.0h2.23v8.8h-2.23zM1359.6 2169.2h2.23v8.8h-2.23zM1361.8 2171.4h2.23v6.6h-2.23zM1364.0 2173.6h2.23v6.6h-2.23zM1366.2 2173.6h2.23v6.6h-2.23zM1368.4 2173.6h2.23v8.8h-2.23zM1370.6 2175.8h2.23v8.8h-2.23zM1372.8 2173.6h2.23v11.0h-2.23zM1375.0 2171.4h2.23v11.0h-2.23zM1377.2 2169.2h2.23v8.8h-2.23zM1379.4 2164.8h2.23v11.0h-2.23zM1381.6 2162.6h2.23v11.0h-2.23zM1383.8 2160.4h2.23v8.8h-2.23zM1386.0 2160.4h2.23v6.6h-2.23zM1388.2 2162.6h2.23v2.2h-2.23z"/>
<g style="font-family:'Liberation Sans',sans-serif;font-weight:700;font-size:30.7px">
<g transform="translate(477.7,2042.8) rotate(-90)"><text x="-35.84" y="0">(220)</text></g>
<g transform="translate(493.0,1963.4) rotate(-90)"><text x="-35.84" y="0">(</text><use href="#g1" transform="translate(-25.61,0) scale(0.01499,-0.01499)"/><use href="#g1" transform="translate(-8.54,0) scale(0.01499,-0.01499)"/><use href="#g1" transform="translate(8.54,0) scale(0.01499,-0.01499)"/><text x="25.61" y="0">)</text></g>
<g transform="translate(553.2,2084.6) rotate(-90)"><text x="-35.84" y="0">(002)</text></g>
<g transform="translate(587.2,1993.0) rotate(-90)"><text x="-35.84" y="0">(3</text><use href="#g1" transform="translate(-8.54,0) scale(0.01499,-0.01499)"/><use href="#g1" transform="translate(8.54,0) scale(0.01499,-0.01499)"/><text x="25.61" y="0">)</text></g>
<g transform="translate(616.0,2064.3) rotate(-90)"><text x="-35.84" y="0">(23</text><use href="#g1" transform="translate(8.54,0) scale(0.01499,-0.01499)"/><text x="25.61" y="0">)</text></g>
<g transform="translate(718.5,1998.2) rotate(-90)"><text x="-35.84" y="0">(34</text><use href="#g1" transform="translate(8.54,0) scale(0.01499,-0.01499)"/><text x="25.61" y="0">)</text></g>
<g transform="translate(753.4,1909.0) rotate(-90)"><text x="-35.84" y="0">(3</text><use href="#g1" transform="translate(-8.54,0) scale(0.01499,-0.01499)"/><use href="#g1" transform="translate(8.54,0) scale(0.01499,-0.01499)"/><text x="25.61" y="0">)</text></g>
<g transform="translate(773.6,2015.7) rotate(-90)"><text x="-35.84" y="0">(</text><use href="#g1" transform="translate(-25.61,0) scale(0.01499,-0.01499)"/><use href="#g1" transform="translate(-8.54,0) scale(0.01499,-0.01499)"/><text x="8.54" y="0">3)</text></g>
<g transform="translate(783.9,1930.3) rotate(-90)"><text x="-35.84" y="0">(3</text><use href="#g1" transform="translate(-8.54,0) scale(0.01499,-0.01499)"/><text x="8.54" y="0">2)</text></g>
<g transform="translate(790.7,1838.7) rotate(-90)"><text x="-49.48" y="0">(-</text><use href="#g1" transform="translate(-29.04,0) scale(0.01499,-0.01499)"/><text x="-3.43" y="0">3</text><use href="#g1" transform="translate(22.18,0) scale(0.01499,-0.01499)"/><text x="39.26" y="0">)</text></g>
<g transform="translate(821.2,1947.3) rotate(-90)"><text x="-35.84" y="0">(</text><use href="#g1" transform="translate(-25.61,0) scale(0.01499,-0.01499)"/><text x="-8.54" y="0">3</text><use href="#g1" transform="translate(8.54,0) scale(0.01499,-0.01499)"/><text x="25.61" y="0">)</text></g>
<g transform="translate(855.1,1935.4) rotate(-90)"><text x="-35.84" y="0">(032)</text></g>
<g transform="translate(877.2,2030.0) rotate(-90)"><text x="-49.48" y="0">(-</text><use href="#g1" transform="translate(-29.04,0) scale(0.01499,-0.01499)"/><text x="-3.43" y="0">3</text><text x="22.18" y="0">2)</text></g>
<g transform="translate(909.0,2065.0) rotate(-90)"><text x="-49.48" y="0">(-2</text><text x="-3.43" y="0">2</text><text x="22.18" y="0">3)</text></g>
<g transform="translate(945.0,2045.4) rotate(-90)"><text x="-49.48" y="0">(-3</text><text x="-3.43" y="0">2</text><text x="22.18" y="0">2)</text></g>
<g transform="translate(956.4,1946.2) rotate(-90)"><text x="-35.84" y="0">(024)</text></g>
<g transform="translate(1047.1,1862.2) rotate(-90)"><text x="-49.48" y="0">(-2</text><text x="-3.43" y="0">4</text><use href="#g1" transform="translate(22.18,0) scale(0.01499,-0.01499)"/><text x="39.26" y="0">)</text></g>
<g transform="translate(1075.4,2060.0) rotate(-90)"><text x="-35.84" y="0">(323)</text></g>
<g transform="translate(1093.7,1952.8) rotate(-90)"><text x="-49.48" y="0">(-</text><use href="#g1" transform="translate(-29.04,0) scale(0.01499,-0.01499)"/><text x="-3.43" y="0">2</text><text x="22.18" y="0">5)</text></g>
<g transform="translate(1118.6,2045.9) rotate(-90)"><text x="-35.84" y="0">(242)</text></g>
<g transform="translate(1134.7,1963.3) rotate(-90)"><text x="-35.84" y="0">(440)</text></g>
<g transform="translate(1182.7,2006.2) rotate(-90)"><text x="-35.84" y="0">(53</text><use href="#g1" transform="translate(8.54,0) scale(0.01499,-0.01499)"/><text x="25.61" y="0">)</text></g>
<g transform="translate(1204.5,1923.2) rotate(-90)"><text x="-35.84" y="0">(5</text><use href="#g1" transform="translate(-8.54,0) scale(0.01499,-0.01499)"/><text x="8.54" y="0">0)</text></g>
<g transform="translate(1225.7,2045.4) rotate(-90)"><text x="-49.48" y="0">(-3</text><text x="-3.43" y="0">3</text><text x="22.18" y="0">4)</text></g>
<g transform="translate(1233.2,1822.0) rotate(-90)"><text x="-49.48" y="0">(-3</text><text x="-3.43" y="0">2</text><text x="22.18" y="0">5)</text></g>
<g transform="translate(1263.8,2048.0) rotate(-90)"><text x="-49.48" y="0">(-5</text><text x="-3.43" y="0">2</text><use href="#g1" transform="translate(22.18,0) scale(0.01499,-0.01499)"/><text x="39.26" y="0">)</text></g>
<g transform="translate(1279.0,1948.0) rotate(-90)"><text x="-35.84" y="0">(334)</text></g>
<g transform="translate(1323.7,2082.5) rotate(-90)"><text x="-35.84" y="0">(44</text><use href="#g1" transform="translate(8.54,0) scale(0.01499,-0.01499)"/><text x="25.61" y="0">)</text></g>
<g transform="translate(1350.2,2006.2) rotate(-90)"><text x="-35.84" y="0">(530)</text></g>
</g>
<g style="font-family:'Liberation Sans',sans-serif;font-weight:700;font-size:29.4px">
<g transform="translate(438.0,2032.2)"><use href="#g1" transform="translate(-8.18,0) scale(0.01436,-0.01436)"/></g>
<g transform="translate(472.6,2111.8)"><text x="-8.18" y="0">2</text></g>
<g transform="translate(491.2,2132.2)"><text x="-8.18" y="0">2</text></g>
<g transform="translate(548.1,2156.8)"><text x="-8.18" y="0">3</text></g>
<g transform="translate(580.4,2068.8)"><text x="-8.18" y="0">2</text></g>
<g transform="translate(612.2,2130.3)"><text x="-8.18" y="0">2</text></g>
<g transform="translate(631.6,1485.4)"><use href="#g1" transform="translate(-8.18,0) scale(0.01436,-0.01436)"/></g>
<g transform="translate(673.7,1805.6)"><use href="#g1" transform="translate(-8.18,0) scale(0.01436,-0.01436)"/></g>
<g transform="translate(714.5,2066.7)"><text x="-8.18" y="0">2</text></g>
<g transform="translate(742.0,1975.6)"><text x="-8.18" y="0">4</text></g>
<g transform="translate(762.2,2079.4)"><text x="-8.18" y="0">3</text></g>
<g transform="translate(776.5,2136.7)"><text x="-8.18" y="0">2</text></g>
<g transform="translate(793.0,2108.1)"><text x="-8.18" y="0">3</text></g>
<g transform="translate(808.3,2012.7)"><text x="-8.18" y="0">3</text></g>
<g transform="translate(840.6,2027.0)"><text x="-8.18" y="0">3</text></g>
<g transform="translate(860.6,2108.4)"><text x="-8.18" y="0">3</text></g>
<g transform="translate(896.5,2146.7)"><text x="-8.18" y="0">3</text></g>
<g transform="translate(934.7,2126.6)"><text x="-8.18" y="0">3</text></g>
<g transform="translate(955.9,2136.2)"><text x="-8.18" y="0">3</text></g>
<g transform="translate(1039.1,1949.4)"><text x="-8.18" y="0">3</text></g>
<g transform="translate(1066.1,2125.6)"><text x="-8.18" y="0">3</text></g>
<g transform="translate(1089.7,2121.3)"><text x="-8.18" y="0">3</text></g>
<g transform="translate(1109.3,2108.6)"><text x="-8.18" y="0">3</text></g>
<g transform="translate(1133.1,2137.7)"><text x="-8.18" y="0">4</text></g>
<g transform="translate(1175.0,2076.8)"><text x="-8.18" y="0">4</text></g>
<g transform="translate(1198.9,2118.1)"><text x="-8.18" y="0">3</text></g>
<g transform="translate(1218.0,2135.1)"><text x="-8.18" y="0">3</text></g>
<g transform="translate(1232.8,2142.0)"><text x="-8.18" y="0">3</text></g>
<g transform="translate(1255.0,2139.3)"><text x="-8.18" y="0">3</text></g>
<g transform="translate(1277.3,2147.8)"><text x="-8.18" y="0">3</text></g>
<g transform="translate(1317.2,2151.2)"><text x="-8.18" y="0">3</text></g>
<g transform="translate(1345.6,2147.8)"><text x="-8.18" y="0">3</text></g>
</g>
<text transform="translate(51.7,1772.0) rotate(-90) scale(1,1.04)" text-anchor="middle" style="font-family:'Liberation Sans',sans-serif;font-weight:700;font-size:44px">Intensity (Counts)</text>
<text transform="translate(776.6,2354.2) scale(0.94,1)" style="font-family:'Liberation Sans',sans-serif;font-weight:700;font-size:42px">2</text><path fill-rule="evenodd" d="M802.70 2339.30a9.60 14.70 0 1 0 19.20 0a9.60 14.70 0 1 0 -19.20 0zM807.40 2339.30a4.90 12.50 0 1 0 9.80 0a4.90 12.50 0 1 0 -9.80 0z"/><rect x="807.1" y="2338.4" width="10.4" height="2.2"/><path fill-rule="evenodd" d="M820.90 2323.60a6.60 6.80 0 1 0 13.20 0a6.60 6.80 0 1 0 -13.20 0zM823.60 2323.60a3.90 5.00 0 1 0 7.80 0a3.90 5.00 0 1 0 -7.80 0z"/>
<rect x="239.4" y="1280.4" width="232.3" height="305.4" fill="#fff" stroke="#000" stroke-width="4.4"/>
<g style="font-family:'Liberation Serif',serif;font-weight:700;font-size:40.5px" letter-spacing="1.4">
<text x="252.7" y="1326.0"><tspan dy="0">1: B</tspan><tspan font-size="26.5" dy="6.5">2</tspan><tspan dy="-6.5">O</tspan><tspan font-size="26.5" dy="6.5">3</tspan></text>
<text x="252.7" y="1404.7"><tspan dy="0">2: Al</tspan><tspan font-size="26.5" dy="6.5">4</tspan><tspan dy="-6.5">B</tspan><tspan font-size="26.5" dy="6.5">2</tspan><tspan dy="-6.5">O</tspan><tspan font-size="26.5" dy="6.5">9</tspan></text>
<text x="252.7" y="1483.4"><tspan dy="0">3: FeB</tspan><tspan font-size="26.5" dy="6.5">2</tspan><tspan dy="-6.5">O</tspan><tspan font-size="26.5" dy="6.5">4</tspan></text>
<text x="252.7" y="1562.1"><tspan dy="0">4: Fe</tspan><tspan font-size="26.5" dy="6.5">2.964</tspan><tspan dy="-6.5">O</tspan><tspan font-size="26.5" dy="6.5">4</tspan></text>
</g>
</svg>
</body></html>
